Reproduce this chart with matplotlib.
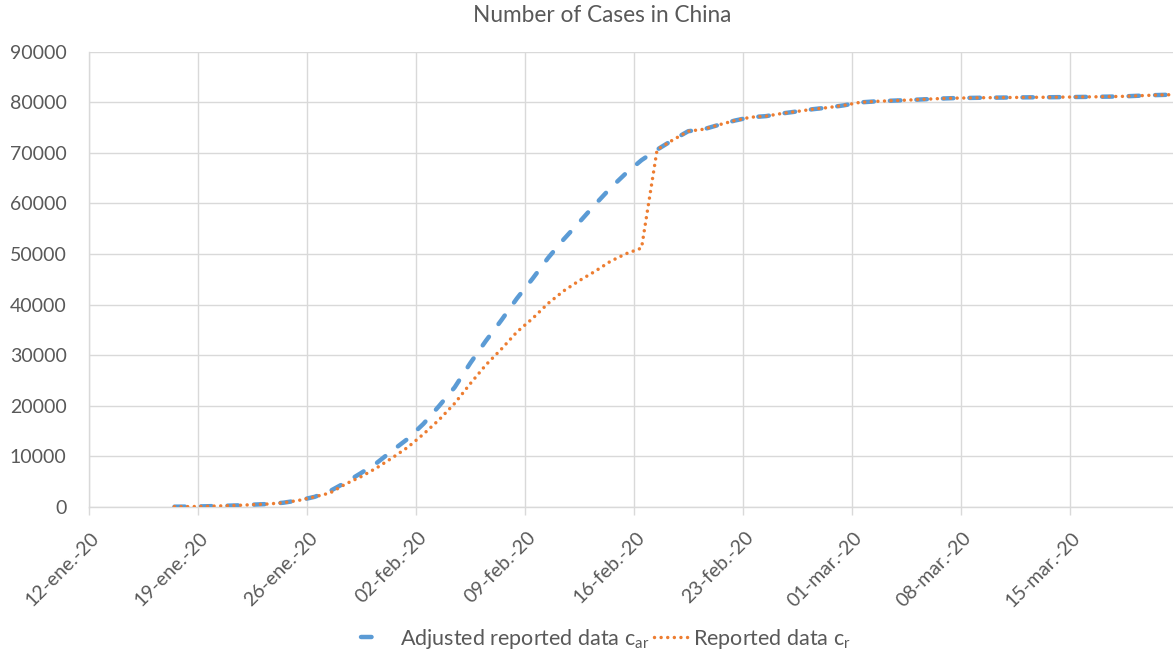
import matplotlib
matplotlib.use('Agg')
import matplotlib.pyplot as plt
import matplotlib.dates as mdates
from matplotlib.lines import Line2D
from matplotlib.transforms import ScaledTranslation
import pandas as pd

plt.rcParams['font.family'] = ['Lato', 'DejaVu Sans']
plt.rcParams['mathtext.fontset'] = 'custom'
plt.rcParams['mathtext.rm'] = 'Lato'
plt.rcParams['lines.scale_dashes'] = False

# ---------------- data ----------------
start_date = '2020-01-17'
reported = [45, 62, 121, 198, 291, 440, 571, 830, 1297, 1985,
            2761, 4537, 5997, 7736, 9720,
            11821, 14411, 17238, 20471, 24363, 28060, 31211, 34598, 37251, 40235,
            42708, 44730, 46550, 48548, 50054, 51174, 70635, 72528, 74280, 74675,
            75569, 76392, 77042, 77262, 77780, 78191, 78630, 78961, 79394,
            79968, 80174, 80304, 80422, 80565, 80711, 80813, 80859, 80904, 80924,
            80955, 80981, 80991, 81021, 81048, 81077, 81116, 81174, 81300, 81416, 81498]
adjusted = [45, 62, 121, 198, 291, 440, 571, 830, 1297, 1985,
            3150, 4840, 6720, 8710, 11140,
            13500, 16450, 19960, 23650, 28420, 32820, 36920, 41230, 45120, 49230,
            52900, 56280, 59730, 63030, 65970, 68560, 70635, 72528, 74280, 74675,
            75569, 76392, 77042, 77262, 77780, 78191, 78630, 78961, 79394,
            79968, 80174, 80304, 80422, 80565, 80711, 80813, 80859, 80904, 80924,
            80955, 80981, 80991, 81021, 81048, 81077, 81116, 81174, 81300, 81416, 81498]
tick_dates = ['2020-01-12', '2020-01-19', '2020-01-26', '2020-02-02', '2020-02-09',
              '2020-02-16', '2020-02-23', '2020-03-01', '2020-03-08', '2020-03-15']
tick_labels = ['12-ene.-20', '19-ene.-20', '26-ene.-20', '02-feb.-20', '09-feb.-20',
               '16-feb.-20', '23-feb.-20', '01-mar.-20', '08-mar.-20', '15-mar.-20']
y_ticks = [0, 10000, 20000, 30000, 40000, 50000, 60000, 70000, 80000, 90000]
title = 'Number of Cases in China'
legend_labels = ['Adjusted reported data c$_\\mathrm{ar}$', 'Reported data c$_\\mathrm{r}$']

# ---------------- figure ----------------
W, H = 1173, 654
fig = plt.figure(figsize=(W / 100, H / 100), dpi=100)
ax_left, ax_right, ax_top, ax_bottom = 88.8, 1173, 51.7, 506.9
ax = fig.add_axes([ax_left / W, (H - ax_bottom) / H, (ax_right - ax_left) / W, (ax_bottom - ax_top) / H])

dates = pd.date_range(start_date, periods=len(reported), freq='D')
x = mdates.date2num(dates) + 0.5   # points centred between day ticks
tick_x = mdates.date2num(pd.to_datetime(tick_dates))

blue = '#5B9BD5'
orange = '#ED7D31'
grid_c = '#D9D9D9'
txt_c = '#595959'

ax.plot(x, adjusted, color=blue, lw=3.2, linestyle=(0, (7.6, 11.5)),
        dash_capstyle='round', solid_capstyle='round', zorder=3)
ax.plot(x, reported, color=orange, lw=2.5, linestyle=(0, (0.01, 4.75)),
        dash_capstyle='round', zorder=4)

ax.set_xlim(tick_x[0], tick_x[0] + (ax_right - ax_left) / 15.57)
ax.set_ylim(0, 90000)
ax.set_yticks(y_ticks)
ax.set_yticklabels([str(v) for v in y_ticks])
ax.set_xticks(tick_x)
ax.set_xticklabels(tick_labels, rotation=45, ha='right', va='center', rotation_mode='anchor')

ax.grid(True, color=grid_c, lw=1.0, zorder=0)
ax.set_axisbelow(True)
for s in ['top', 'right']:
    ax.spines[s].set_visible(False)
for s in ['left', 'bottom']:
    ax.spines[s].set_color(grid_c)
    ax.spines[s].set_linewidth(1.0)

ax.tick_params(axis='y', length=0, pad=16, labelsize=14, labelcolor=txt_c)
ax.tick_params(axis='x', length=5.5, width=1.0, color=grid_c, pad=14.7,
               labelsize=14, labelcolor=txt_c)
off = ScaledTranslation(0.08, 0, fig.dpi_scale_trans)
for lab in ax.get_xticklabels():
    lab.set_transform(lab.get_transform() + off)

fig.text(602.5 / W, 1 - 16 / H, title, ha='center', va='center', fontsize=16.3, color=txt_c)

handles = [Line2D([], [], color=blue, lw=3.2, linestyle=(0, (7.6, 40)), dash_capstyle='round'),
           Line2D([], [], color=orange, lw=2.5, linestyle=(0, (0.01, 4.75)), dash_capstyle='round')]
fig.legend(handles, legend_labels, loc='center', bbox_to_anchor=(606 / W, 15 / H), ncol=2,
           frameon=False, fontsize=15.5, handlelength=1.6, handletextpad=0.2,
           columnspacing=0.2, labelcolor=txt_c, borderpad=0, borderaxespad=0)

fig.savefig('out.png', dpi=100)
